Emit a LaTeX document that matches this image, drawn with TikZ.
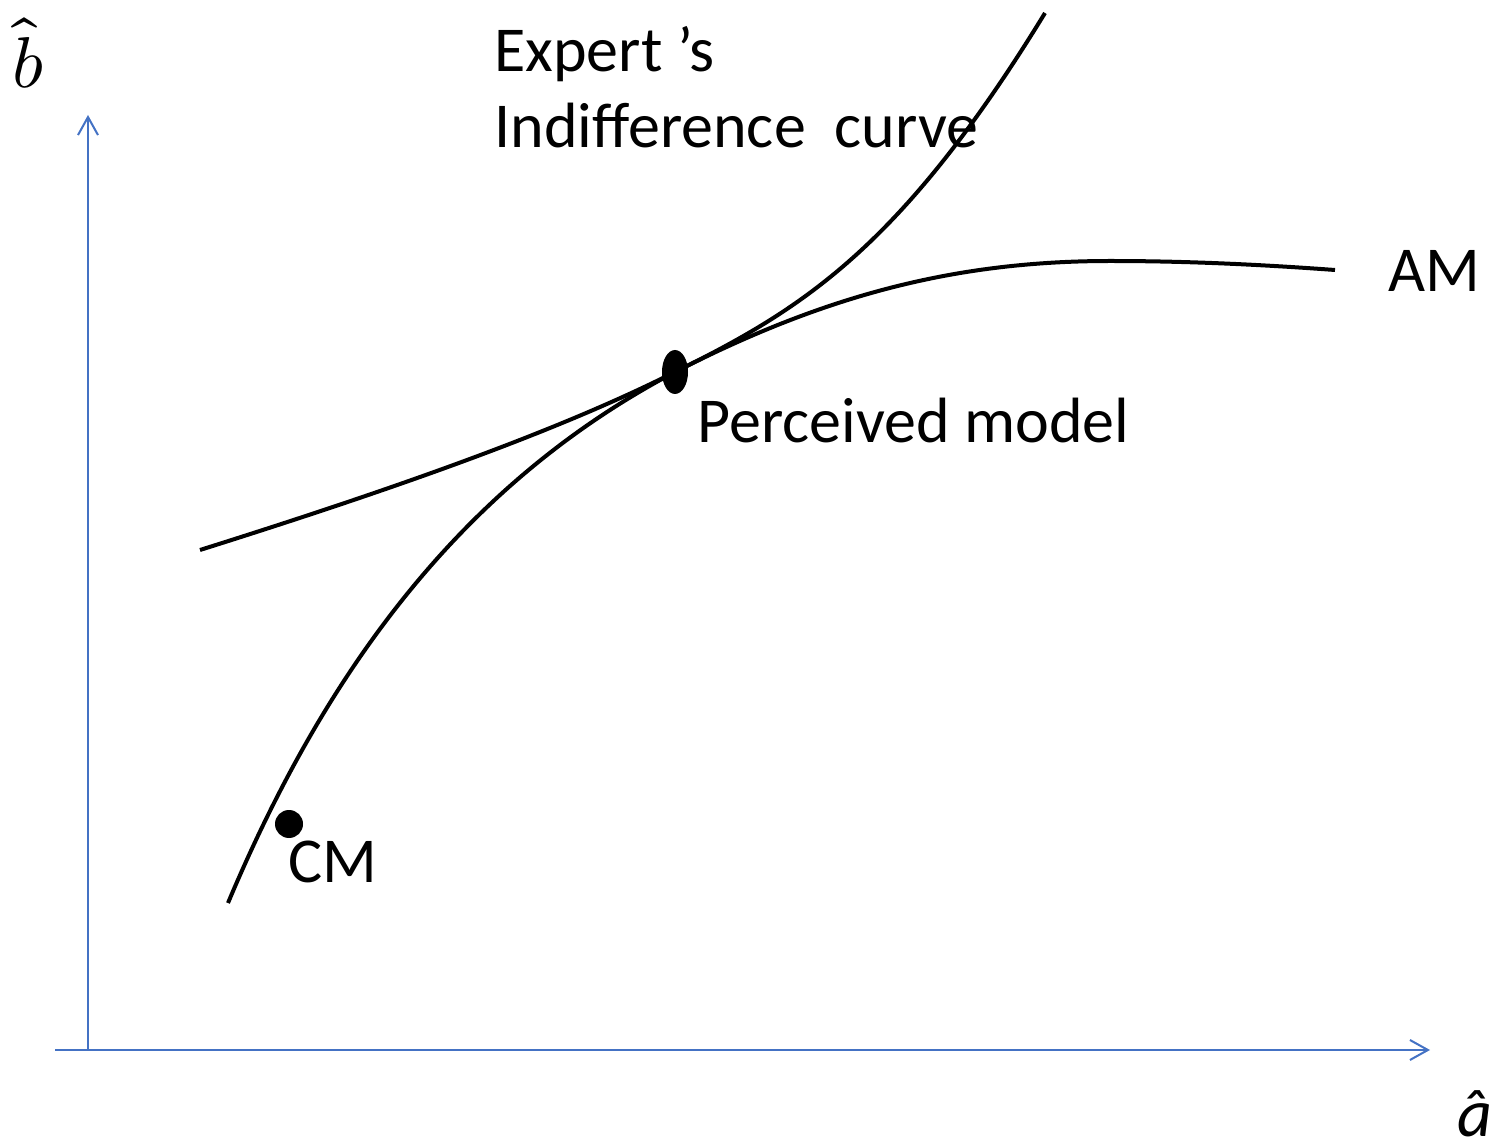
\documentclass[tikz,border=0pt]{standalone}
\usepackage{fontspec}
\usepackage{unicode-math}
\setmainfont{Carlito}
\usetikzlibrary{arrows.meta, shapes.geometric}
\definecolor{axisblue}{RGB}{68,114,196}

\begin{document}
\begin{tikzpicture}[x=0.5pt, y=-0.5pt,
    axis/.style={draw=axisblue, line width=1pt, -{Straight Barb[length=9pt, width=10pt]}},
    curve/.style={draw, line width=2pt},
    label/.style={font=\fontsize{32}{38}\selectfont, inner sep=0pt, anchor=base west},
    dot/.style={fill, draw=none, inner sep=0pt}
]
\useasboundingbox (0,0) rectangle (1501,1144);

% Axes
\coordinate (origin) at (88,1050);
\coordinate (xstart) at (55,1050);
\coordinate (xend) at (1430,1050);
\coordinate (yend) at (88,115);
\draw[axis] (origin) -- (yend);
\draw[axis] (xstart) -- (xend);

% Nodes
\node[dot, ellipse, minimum width=13pt, minimum height=22pt] (pm) at (675,372) {};
\node[dot, circle, minimum size=14pt] (cm) at (289,824) {};
\coordinate (icstart) at (228,903);
\coordinate (icend) at (1045,13);
\coordinate (amstart) at (200,550);
\coordinate (amtop) at (1110,261);
\coordinate (amend) at (1335,270);

% Curves
\draw[curve] (icstart) .. controls (330,660) and (470,480) .. (pm.center)
    .. controls (800,310) and (900,250) .. (icend);
\draw[curve] (amstart) .. controls (400,487) and (560,430) .. (pm.center)
    .. controls (820,298) and (950,261) .. (amtop)
    .. controls (1200,261) and (1280,266) .. (amend);

% Labels
\node[label] (expert) at (494,72) {Expert ’s};
\node[label] (indiff) at (494,148) {Indifference\ \ curve};
\node[label] (am) at (1388,292) {AM};
\node[label] (pmlabel) at (697,443) {Perceived model};
\node[label] (cmlabel) at (288,882) {CM};
\node[inner sep=0pt, anchor=base west] (bhat) at (12,88) {\fontsize{36}{42}\selectfont$\widehat{b}$};
\node[inner sep=0pt, anchor=base east] (ahat) at (1493,1136) {\fontsize{34}{40}\selectfont\itshape â};
\end{tikzpicture}
\end{document}
